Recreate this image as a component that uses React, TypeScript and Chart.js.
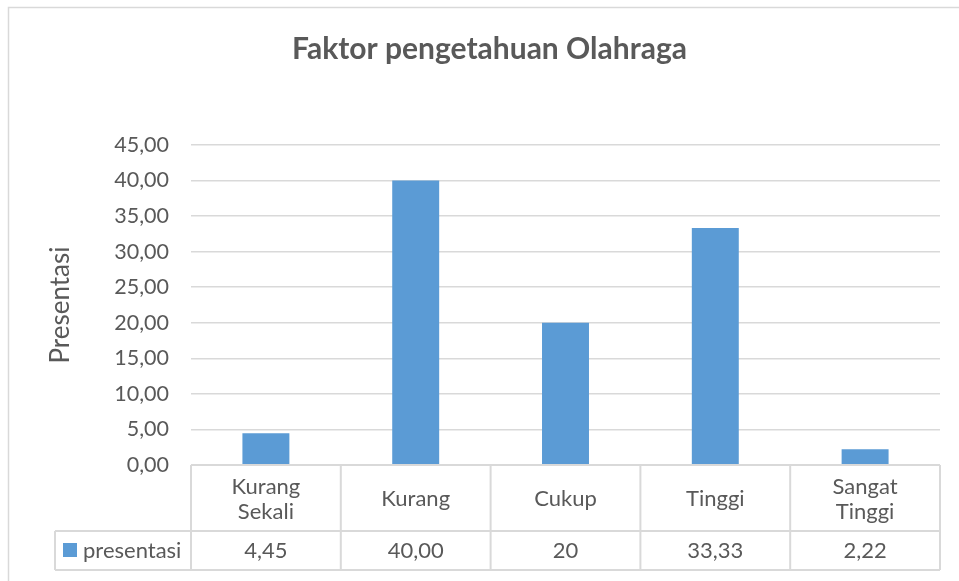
import React, { useEffect, useRef } from "react";
import { Chart, registerables } from "chart.js";

Chart.register(...registerables);

const chartTitle = "Faktor pengetahuan Olahraga";
const yAxisTitle = "Presentasi";
const seriesName = "presentasi";
const categories: (string | string[])[] = [["Kurang", "Sekali"], "Kurang", "Cukup", "Tinggi", ["Sangat", "Tinggi"]];
const values = [4.45, 40.0, 20, 33.33, 2.22];
const valueLabels = ["4,45", "40,00", "20", "33,33", "2,22"];
const yMin = 0;
const yMax = 45;
const yStep = 5;

const FONT = "Lato, 'Open Sans', sans-serif";
const TEXT = "#595959";
const LINE = "#d9d9d9";
const BAR = "#5b9bd5";

const decorPlugin = {
  id: "decor",
  beforeDraw(chart: any) {
    const ctx = chart.ctx;
    ctx.save();
    ctx.strokeStyle = LINE;
    ctx.lineWidth = 1.5;
    ctx.strokeRect(8.5, 7.5, chart.width + 20, chart.height + 20);
    ctx.fillStyle = TEXT;
    ctx.font = `bold 30px ${FONT}`;
    ctx.textAlign = "center";
    ctx.textBaseline = "middle";
    ctx.fillText(chartTitle, 489.5, 49);
    ctx.restore();
  },
  afterDraw(chart: any) {
    const ctx = chart.ctx;
    const area = chart.chartArea;
    const x = chart.scales.x;
    const n = categories.length;
    const bounds: number[] = [area.left];
    for (let i = 0; i < n - 1; i++) {
      bounds.push((x.getPixelForValue(i) + x.getPixelForValue(i + 1)) / 2);
    }
    bounds.push(area.right);
    const top = area.bottom;
    const rowH1 = 66;
    const rowH2 = 39;
    const mid = top + rowH1;
    const bot = mid + rowH2;
    const legendLeft = 55;
    ctx.save();
    ctx.strokeStyle = LINE;
    ctx.lineWidth = 2;
    ctx.beginPath();
    ctx.moveTo(area.left, top);
    ctx.lineTo(area.right, top);
    ctx.moveTo(legendLeft, mid);
    ctx.lineTo(area.right, mid);
    ctx.moveTo(legendLeft, bot);
    ctx.lineTo(area.right, bot);
    ctx.moveTo(legendLeft, mid);
    ctx.lineTo(legendLeft, bot);
    for (const b of bounds) {
      ctx.moveTo(b, top);
      ctx.lineTo(b, bot);
    }
    ctx.stroke();

    ctx.fillStyle = TEXT;
    ctx.font = `22px ${FONT}`;
    ctx.textAlign = "center";
    ctx.textBaseline = "middle";
    for (let i = 0; i < n; i++) {
      const cx = x.getPixelForValue(i);
      const lab = categories[i];
      const lines = Array.isArray(lab) ? lab : [lab];
      const lh = 25;
      const startY = top + rowH1 / 2 + 1 - ((lines.length - 1) * lh) / 2;
      lines.forEach((ln, k) => ctx.fillText(ln, cx, startY + k * lh));
      ctx.fillText(valueLabels[i], cx, mid + rowH2 / 2);
    }
    ctx.fillStyle = BAR;
    ctx.fillRect(63, mid + 12, 14, 14);
    ctx.fillStyle = TEXT;
    ctx.textAlign = "left";
    ctx.fillText(seriesName, 83, mid + rowH2 / 2);
    ctx.restore();
  },
};

export default function App() {
  const ref = useRef<HTMLCanvasElement>(null);
  useEffect(() => {
    document.body.style.margin = "0";
    const chart = new Chart(ref.current!, {
      type: "bar",
      data: {
        labels: categories,
        datasets: [
          {
            label: seriesName,
            data: values,
            backgroundColor: BAR,
            barPercentage: 0.3135,
            categoryPercentage: 1,
          },
        ],
      },
      options: {
        animation: false,
        responsive: false,
        layout: { padding: { left: 0, top: 145, right: 19, bottom: 116 } },
        plugins: { legend: { display: false }, title: { display: false }, tooltip: { enabled: false } },
        scales: {
          x: { display: false },
          y: {
            min: yMin,
            max: yMax,
            ticks: {
              stepSize: yStep,
              color: TEXT,
              font: { family: FONT, size: 21.5 },
              padding: 22,
              callback: (v: any) => Number(v).toFixed(2).replace(".", ","),
            },
            grid: { color: LINE, lineWidth: 1.5, drawTicks: false },
            border: { display: false },
            title: {
              display: true,
              text: yAxisTitle,
              color: TEXT,
              font: { family: FONT, size: 26 },
              padding: { top: 45, bottom: 0 },
            },
            afterFit: (s: any) => {
              s.width = 191;
            },
          },
        },
      },
      plugins: [decorPlugin],
    });
    return () => chart.destroy();
  }, []);
  return <canvas ref={ref} width={959} height={581} style={{ display: "block", width: 959, height: 581 }} />;
}
